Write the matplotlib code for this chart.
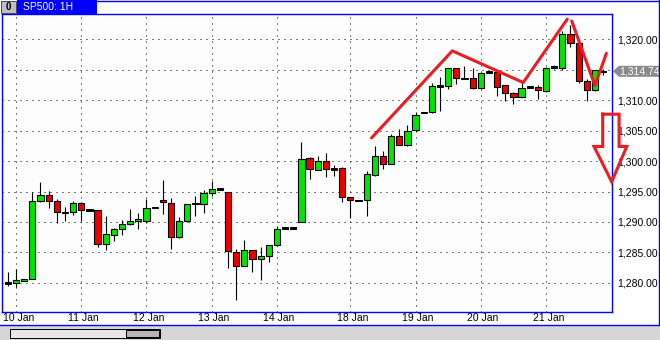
import matplotlib
matplotlib.use("Agg")
import matplotlib.pyplot as plt
from matplotlib.patches import Rectangle, Polygon
from matplotlib.lines import Line2D
from matplotlib.transforms import blended_transform_factory

plt.rcParams["font.family"] = ["Liberation Sans", "DejaVu Sans"]

W, H = 660, 340

# hourly SP500 bars
opens = [1280.0, 1280.0, 1280.3, 1280.6, 1293.4, 1294.5, 1293.4, 1291.6, 1291.6, 1293.1,
         1292.0, 1291.9, 1286.35, 1287.8, 1288.8, 1289.7, 1290.1, 1290.2, 1292.4, 1293.6,
         1293.1, 1287.5, 1290.1, 1293.0, 1293.0, 1294.8, 1295.4, 1294.9, 1285.0, 1282.8,
         1285.35, 1284.0, 1284.4, 1286.2, 1289.0, 1289.0, 1290.05, 1300.45, 1298.6, 1300.05,
         1298.7, 1298.8, 1294.05, 1293.55, 1293.55, 1297.7, 1300.8, 1299.6, 1304.2, 1302.6,
         1305.1, 1307.9, 1308.0, 1312.3, 1312.3, 1315.3, 1313.6, 1313.65, 1312.0, 1314.6,
         1314.6, 1312.45, 1311.1, 1310.6, 1312.2, 1312.2, 1311.5, 1315.45, 1315.35, 1320.9,
         1319.45, 1313.15, 1311.6, 1314.74]
highs = [1281.8, 1282.2, 1280.7, 1294.9, 1296.6, 1295.1, 1293.8, 1292.4, 1293.4, 1293.3,
         1292.0, 1291.9, 1291.0, 1289.0, 1290.3, 1292.1, 1291.5, 1293.8, 1292.4, 1296.9,
         1293.9, 1290.8, 1293.0, 1294.3, 1295.3, 1296.75, 1295.4, 1294.9, 1285.6, 1287.0,
         1285.4, 1285.9, 1286.3, 1289.3, 1289.1, 1289.0, 1303.1, 1300.6, 1300.85, 1301.35,
         1299.35, 1299.0, 1294.05, 1293.55, 1298.3, 1302.5, 1301.7, 1304.4, 1305.25, 1306.0,
         1308.1, 1308.0, 1312.75, 1313.75, 1315.3, 1315.3, 1315.65, 1315.3, 1314.6, 1314.6,
         1314.9, 1312.45, 1311.35, 1313.0, 1312.2, 1312.5, 1315.4, 1315.7, 1321.4, 1322.3,
         1319.45, 1313.4, 1314.9, 1315.2]
lows = [1279.5, 1279.4, 1280.3, 1280.6, 1293.2, 1292.3, 1289.8, 1290.1, 1291.1, 1290.1,
        1292.0, 1285.9, 1285.4, 1286.9, 1287.9, 1289.5, 1288.8, 1289.9, 1292.3, 1291.25,
        1285.6, 1287.4, 1290.0, 1291.0, 1291.4, 1294.2, 1295.3, 1282.5, 1277.2, 1282.7,
        1281.8, 1280.5, 1283.5, 1286.1, 1289.0, 1289.0, 1290.0, 1297.1, 1298.5, 1297.4,
        1297.55, 1293.3, 1290.7, 1293.55, 1291.0, 1297.6, 1298.7, 1299.5, 1302.6, 1302.5,
        1305.0, 1307.9, 1307.9, 1308.15, 1311.8, 1312.65, 1313.4, 1311.8, 1311.9, 1314.6,
        1310.7, 1309.9, 1309.3, 1310.5, 1312.2, 1310.2, 1311.4, 1315.2, 1314.9, 1318.7,
        1312.9, 1309.9, 1311.5, 1314.2]
closes = [1280.0, 1280.5, 1280.7, 1293.4, 1294.5, 1293.4, 1291.6, 1291.6, 1293.1, 1291.9,
          1292.0, 1286.35, 1288.0, 1288.8, 1289.6, 1290.1, 1290.5, 1292.25, 1292.4, 1293.2,
          1287.5, 1290.1, 1292.9, 1293.1, 1294.8, 1295.4, 1295.4, 1285.2, 1282.8, 1285.35,
          1284.0, 1284.4, 1286.2, 1288.8, 1289.05, 1289.0, 1300.3, 1298.65, 1300.05, 1298.65,
          1298.7, 1294.05, 1293.55, 1293.55, 1297.8, 1300.8, 1299.5, 1304.2, 1302.6, 1305.0,
          1307.5, 1308.0, 1312.3, 1312.35, 1315.3, 1313.6, 1313.6, 1312.0, 1314.5, 1314.6,
          1312.2, 1311.1, 1310.6, 1312.05, 1312.2, 1311.6, 1315.35, 1315.45, 1320.9, 1319.45,
          1313.1, 1311.7, 1314.9, 1314.74]

day_start = [1, 9, 17, 25, 33, 42, 50, 58, 66]
day_labels = ["10 Jan", "11 Jan", "12 Jan", "13 Jan", "14 Jan",
              "18 Jan", "19 Jan", "20 Jan", "21 Jan"]
price_ticks = [1280, 1285, 1290, 1295, 1300, 1305, 1310, 1315, 1320]
last_price = 1314.74

# hand drawn red marks
trend_x = [44.6, 54.5, 63.2, 68.6]
trend_y = [1303.8, 1318.1, 1312.9, 1323.3]
drop_x = [69.15, 72.0, 73.4]
drop_y = [1323.0, 1312.4, 1317.7]
arrow_x = [72.95, 74.96, 74.96, 75.9, 74.05, 71.88, 72.95, 72.95]
arrow_y = [1307.7, 1307.7, 1302.4, 1302.4, 1296.6, 1302.4, 1302.4, 1307.7]


def fx(x):
    return x / W


def fy(y):
    return 1 - y / H


fig = plt.figure(figsize=(W / 100, H / 100), dpi=100)
fig.patch.set_facecolor("white")
ax = fig.add_axes([fx(2), 28 / H, 610 / W, 298 / H])
ax.set_facecolor("#fdfdfd")

for p in price_ticks:
    ax.axhline(p, color="black", lw=0.72, ls=(0, (1, 5)), zorder=1)
for d in day_start:
    ax.axvline(d, color="black", lw=0.72, ls=(0, (1, 5)), zorder=1)

for i, (o, h, l, c) in enumerate(zip(opens, highs, lows, closes)):
    ax.vlines(i, l, h, color="black", lw=0.8, zorder=2)
    if abs(c - o) < 0.25:
        ax.add_patch(Rectangle((i - 0.38, (o + c) / 2 - 0.12), 0.76, 0.24,
                               facecolor="black", edgecolor="black", lw=0.7, zorder=3))
    else:
        color = "#00e600" if c > o else "#ee0000"
        ax.add_patch(Rectangle((i - 0.38, min(o, c)), 0.76, abs(c - o),
                               facecolor=color, edgecolor="black", lw=0.8, zorder=3))

red = "#ea1c24"
ax.plot(trend_x, trend_y, color=red, lw=2.2, zorder=5, solid_capstyle="round")
ax.plot(drop_x, drop_y, color=red, lw=2.2, zorder=5, solid_capstyle="round")
ax.plot(arrow_x, arrow_y, color=red, lw=2.2, zorder=5, clip_on=False,
        solid_joinstyle="miter")

ax.set_xlim(-0.72, 74.09)
ax.set_ylim(1275.22, 1324.15)
ax.set_xticks([])
ax.set_yticks(price_ticks)
# the last price tag covers the label nearest to it
ax.set_yticklabels(["" if abs(p - last_price) < 2.5 else f"{p:,.2f}" for p in price_ticks])
ax.yaxis.tick_right()
ax.tick_params(axis="y", length=0, pad=4, labelsize=7.5)
for s in ax.spines.values():
    s.set_color("#0000ff")
    s.set_linewidth(1.0)

trans = blended_transform_factory(ax.transData, ax.transAxes)
for d, lab in zip(day_start, day_labels):
    ax.text(d - 1.65, -0.02, lab, transform=trans, ha="left", va="center", fontsize=7.5)

# last price tag
tag = blended_transform_factory(ax.transAxes, ax.transData)
ax.add_patch(Polygon([(1.0016, last_price), (1.0115, last_price + 0.9), (1.077, last_price + 0.9),
                      (1.077, last_price - 0.9), (1.0115, last_price - 0.9)],
                     closed=True, facecolor="#8a8a8a", edgecolor="none", transform=tag, clip_on=False))
ax.text(1.012, last_price, f"{last_price:,.2f}", transform=tag, color="white",
        fontsize=7.5, va="center", ha="left")

# window frame, title bar and scrollbar
fig.add_artist(Rectangle((fx(1), fy(13)), 15 / W, 12 / H, facecolor="#c0c0c0",
                         edgecolor="#404080", lw=0.7, transform=fig.transFigure))
fig.text(fx(8.5), fy(7), "0", fontsize=7, fontweight="bold", ha="center", va="center")
fig.add_artist(Rectangle((fx(17), fy(13.5)), 80 / W, 13.5 / H, facecolor="#0000ff",
                         edgecolor="none", transform=fig.transFigure))
fig.text(fx(23), fy(7), "SP500: 1H", color="white", fontsize=7.5, va="center")
fig.add_artist(Line2D([fx(97), 1], [fy(0.5), fy(0.5)], color="#0000ff", lw=1.0,
                      transform=fig.transFigure))
fig.add_artist(Line2D([fx(659), fx(659)], [fy(0), fy(325)], color="#0000ff", lw=1.0,
                      transform=fig.transFigure))
fig.add_artist(Rectangle((0, 0), 1, 15 / H, facecolor="#d6d6d6", edgecolor="none",
                         transform=fig.transFigure))
fig.add_artist(Line2D([0, 1], [fy(325), fy(325)], color="#0000ff", lw=1.0,
                      transform=fig.transFigure))
fig.add_artist(Rectangle((fx(10), fy(338)), 150 / W, 9 / H, facecolor="#e6e6e6",
                         edgecolor="black", lw=0.7, transform=fig.transFigure))
fig.add_artist(Rectangle((fx(126), fy(337)), 33 / W, 7 / H, facecolor="#b4b4b4",
                         edgecolor="black", lw=0.7, transform=fig.transFigure))

fig.savefig("out.png", dpi=100)
